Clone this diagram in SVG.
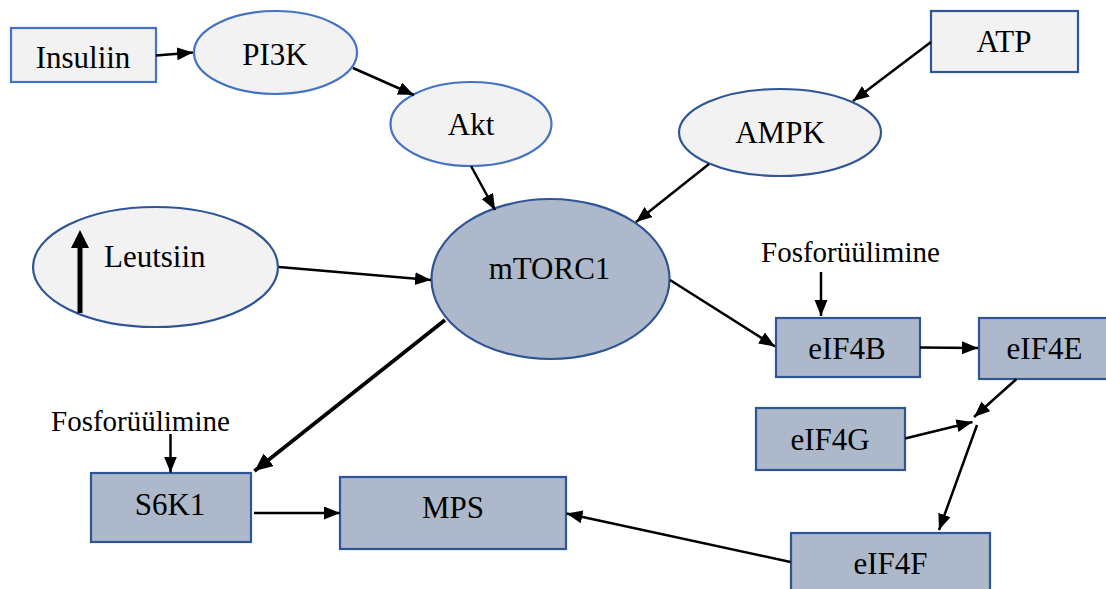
<svg xmlns="http://www.w3.org/2000/svg" width="1106" height="589" viewBox="0 0 1106 589">
<style>
.lt{fill:#F2F2F2;stroke:#4472C4;stroke-width:2.2}
.ld{fill:#F2F2F2;stroke:#2F5597;stroke-width:2.2}
.dk{fill:#ADB9CA;stroke:#2F5597;stroke-width:2.2}
text{font-family:"Liberation Serif","Times New Roman",serif;font-size:31px;fill:#000}
.c{text-anchor:middle}
.sm{font-size:29px}
.e{stroke:#000;stroke-width:2.5;fill:none;marker-end:url(#ah)}
</style>
<defs>
<marker id="ah" markerUnits="userSpaceOnUse" markerWidth="17" markerHeight="14" refX="16" refY="6.5" orient="auto"><path d="M0,0 L16,6.5 L0,13 z" fill="#000"/></marker>
<marker id="ahb" markerUnits="userSpaceOnUse" markerWidth="19" markerHeight="17" refX="18" refY="8" orient="auto"><path d="M0,0 L18,8 L0,16 z" fill="#000"/></marker>
</defs>
<rect width="1106" height="589" fill="#fff"/>
<g id="insuliin"><rect class="lt" x="11" y="28" width="145" height="54"/><text class="c" x="83" y="68">Insuliin</text></g>
<g id="pi3k"><ellipse class="lt" cx="275.5" cy="52.5" rx="81.5" ry="41.5"/><text class="c" x="275" y="65">PI3K</text></g>
<g id="akt"><ellipse class="lt" cx="471" cy="124" rx="80.5" ry="42"/><text class="c" x="471" y="135">Akt</text></g>
<g id="atp"><rect class="ld" x="931" y="11" width="147" height="61"/><text class="c" x="1004" y="52">ATP</text></g>
<g id="ampk"><ellipse class="ld" cx="780" cy="132.5" rx="101" ry="43.5"/><text class="c" x="780" y="143">AMPK</text></g>
<g id="leutsiin"><ellipse class="ld" cx="155.5" cy="267" rx="122.5" ry="60"/><text x="104" y="267">Leutsiin</text>
<line x1="80" y1="313" x2="80" y2="246" stroke="#000" stroke-width="5"/><path d="M71,248 L80,230 L89,248 z" fill="#000"/></g>
<g id="mtorc1"><ellipse class="dk" cx="550.5" cy="279" rx="119" ry="80"/><text class="c" x="549.5" y="279">mTORC1</text></g>
<g id="fosfo1"><text class="sm" x="761" y="262">Fosforüülimine</text></g>
<g id="eif4b"><rect class="dk" x="776" y="318" width="144" height="59"/><text class="c" x="847" y="359">eIF4B</text></g>
<g id="eif4e"><rect class="dk" x="979" y="318" width="130" height="61"/><text class="c" x="1044.5" y="359">eIF4E</text></g>
<g id="eif4g"><rect class="dk" x="756" y="408" width="149" height="62"/><text class="c" x="830" y="450">eIF4G</text></g>
<g id="eif4f"><rect class="dk" x="791" y="533" width="199" height="70"/><text class="c" x="890.5" y="574">eIF4F</text></g>
<g id="fosfo2"><text class="sm" x="51" y="431">Fosforüülimine</text></g>
<g id="s6k1"><rect class="dk" x="91" y="473" width="160" height="69"/><text class="c" x="170" y="515">S6K1</text></g>
<g id="mps"><rect class="dk" x="340" y="477" width="226" height="72"/><text class="c" x="453" y="518">MPS</text></g>
<g id="connectors">
<line class="e" x1="156" y1="55.5" x2="193" y2="52.5"/>
<line class="e" x1="353" y1="68" x2="414" y2="95"/>
<line class="e" x1="471" y1="166" x2="495" y2="210"/>
<line class="e" x1="931" y1="42" x2="853" y2="101"/>
<line class="e" x1="709" y1="164" x2="636" y2="222"/>
<line class="e" x1="279" y1="267" x2="431" y2="280"/>
<line class="e" x1="670" y1="280" x2="775" y2="346.5"/>
<line class="e" stroke-width="3" x1="821" y1="272" x2="821" y2="316"/>
<line class="e" x1="920" y1="347.5" x2="978" y2="348"/>
<line class="e" x1="1016.5" y1="379" x2="974" y2="417"/>
<line class="e" x1="905" y1="438.5" x2="972.5" y2="422"/>
<line class="e" x1="977" y1="425" x2="939" y2="530"/>
<line class="e" x1="790.5" y1="562" x2="566.5" y2="513.5"/>
<line stroke="#000" stroke-width="3.8" fill="none" marker-end="url(#ahb)" x1="445" y1="320" x2="254.5" y2="471"/>
<line class="e" stroke-width="3" x1="170.5" y1="434" x2="170.5" y2="472.5"/>
<line class="e" x1="254" y1="513" x2="340" y2="513"/>
</g>
</svg>
